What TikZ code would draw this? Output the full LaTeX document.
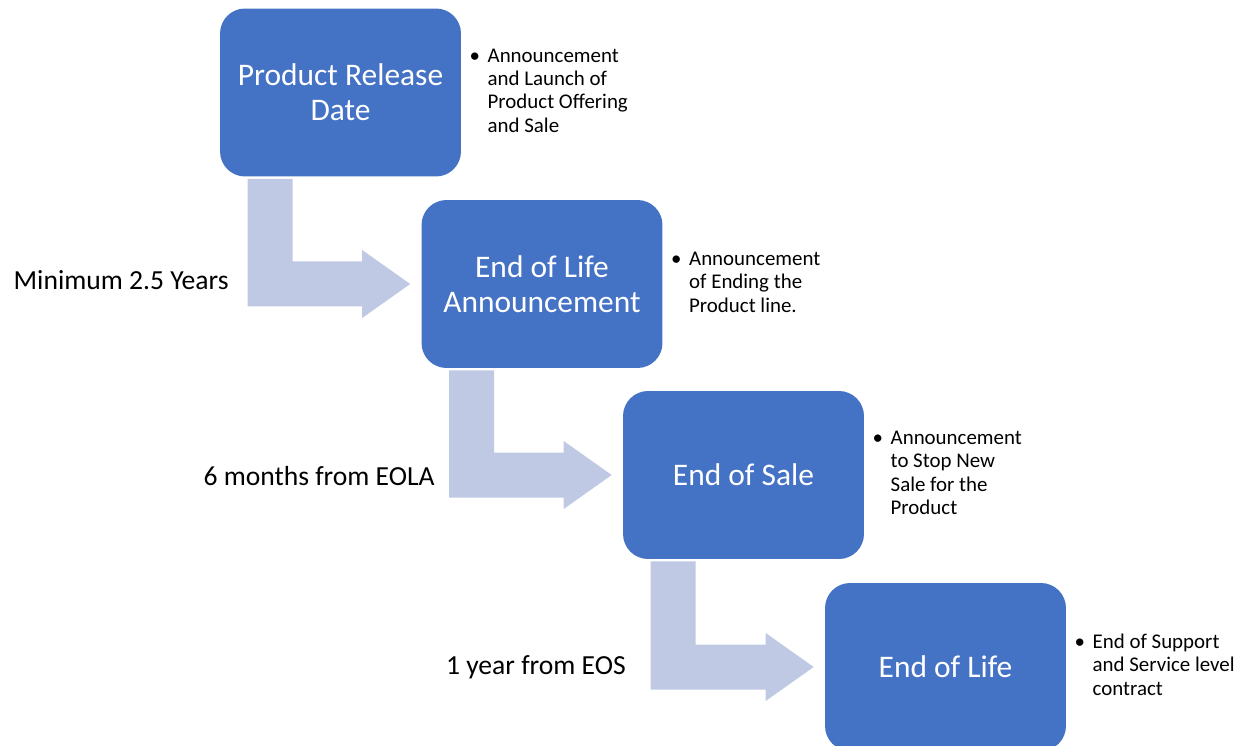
\documentclass[tikz,border=0pt]{standalone}
\usepackage{fontspec}
\setmainfont{Carlito}
\usepackage{xcolor}
\definecolor{eolblue}{RGB}{68,114,196}
\definecolor{eolpale}{RGB}{191,201,228}
\usepackage{tikz}
\usetikzlibrary{calc}

% bent arrow from the foot of one stage to the side of the next
\newcommand{\stagearrow}[2]{%
  \fill[eolpale] ($(#1.south west)+(28,2)$) coordinate (s) -- ++(45,0)
    |- ($(#2.west)+(-59,-22.5)$) -- ++(0,-11.5) -- ($(#2.west)+(-11,0)$)
    -- ($(#2.west)+(-59,34)$) -- ++(0,-11.5) -| (s) -- cycle;}

\begin{document}
\begin{tikzpicture}[x=0.02cm, y=-0.02cm,
    stage/.style={rectangle, rounded corners=0.5cm, fill=eolblue, text=white,
      minimum width=4.82cm, minimum height=3.36cm, inner sep=0pt, align=center,
      font=\fontsize{17.9}{19.8}\selectfont},
    note/.style={anchor=west, inner sep=0pt,
      font=\fontsize{11.9}{13.3}\selectfont},
    lapse/.style={anchor=east, inner sep=0pt,
      font=\fontsize{15.7}{18}\selectfont}]
  \useasboundingbox (0,0) rectangle (1244,746);
  % Stages of the product life
  \node[stage] (rel)  at (340.5,92.5) {Product Release\\Date};
  \node[stage] (eola) at (542,284)    {End of Life\\Announcement};
  \node[stage] (eos)  at (743.5,475)  {End of Sale};
  \node[stage] (eol)  at (945.5,667)  {End of Life};
  % Arrows between stages
  \stagearrow{rel}{eola}
  \stagearrow{eola}{eos}
  \stagearrow{eos}{eol}
  % Time spans
  \node[lapse] (span1) at (229,280) {Minimum 2.5 Years};
  \node[lapse] (span2) at (435,476) {6 months from EOLA};
  \node[lapse] (span3) at (626,667) {1 year from EOS};
  % Notes beside each stage
  \node[note] (relnote) at ($(rel.east)+(8,0)$)
    {\begin{tabular}{@{}p{0.36cm}@{}l@{}}\textbullet & Announcement\\
      & and Launch of\\ & Product Offering\\ & and Sale\end{tabular}};
  \node[note] (eolanote) at ($(eola.east)+(8,0)$)
    {\begin{tabular}{@{}p{0.36cm}@{}l@{}}\textbullet & Announcement\\
      & of Ending the\\ & Product line.\end{tabular}};
  \node[note] (eosnote) at ($(eos.east)+(8,0)$)
    {\begin{tabular}{@{}p{0.36cm}@{}l@{}}\textbullet & Announcement\\
      & to Stop New\\ & Sale for the\\ & Product\end{tabular}};
  \node[note] (eolnote) at ($(eol.east)+(8,0)$)
    {\begin{tabular}{@{}p{0.36cm}@{}l@{}}\textbullet & End of Support\\
      & and Service level\\ & contract\end{tabular}};
\end{tikzpicture}
\end{document}
